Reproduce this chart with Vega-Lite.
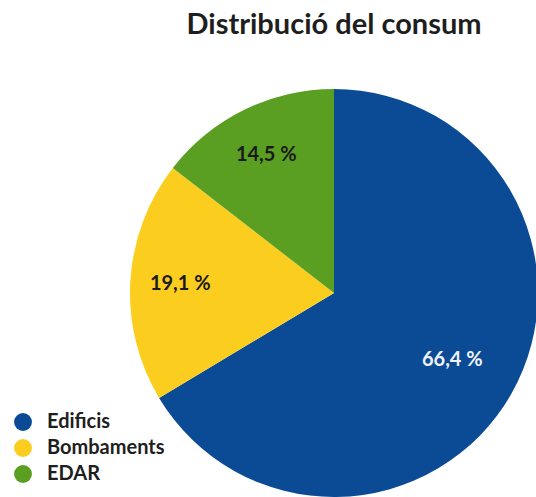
{
  "$schema": "https://vega.github.io/schema/vega-lite/v6.json",
  "autosize": {"type": "none"},
  "width": 404,
  "height": 408,
  "padding": {"left": 132, "top": 89, "right": 0, "bottom": 0},
  "background": "white",
  "config": {"view": {"stroke": null}, "font": "Lato"},
  "title": {
    "text": "Distribució del consum",
    "anchor": "middle",
    "frame": "group",
    "font": "Lato",
    "fontSize": 29,
    "fontWeight": "bold",
    "color": "#1e1e1e",
    "baseline": "alphabetic",
    "offset": 26
  },
  "data": {
    "values": [
      {"categoria": "Edificis", "valor": 66.4, "etiqueta": "66,4 %"},
      {"categoria": "Bombaments", "valor": 19.1, "etiqueta": "19,1 %"},
      {"categoria": "EDAR", "valor": 14.5, "etiqueta": "14,5 %"}
    ]
  },
  "encoding": {
    "theta": {"field": "valor", "type": "quantitative", "stack": true},
    "order": {"field": "valor", "sort": "descending"}
  },
  "layer": [
    {
      "mark": {"type": "arc", "outerRadius": 204, "stroke": null},
      "encoding": {
        "color": {
          "field": "categoria",
          "type": "nominal",
          "scale": {"domain": ["Edificis", "Bombaments", "EDAR"], "range": ["#0b4b95", "#fbcd1f", "#5a9f22"]},
          "legend": {
            "title": null,
            "orient": "none",
            "legendX": -119,
            "legendY": 323,
            "padding": 0,
            "symbolType": "circle",
            "symbolSize": 320,
            "symbolStrokeWidth": 0,
            "symbolOpacity": 1,
            "labelFont": "Lato",
            "labelFontSize": 20,
            "labelFontWeight": "bold",
            "labelColor": "#1e1e1e",
            "labelOffset": 14,
            "rowPadding": 6
          }
        }
      }
    },
    {
      "mark": {"type": "text", "radius": 136, "font": "Lato", "fontSize": 20, "fontWeight": "bold", "color": "#eef2f7"},
      "encoding": {
        "text": {"condition": {"test": "datum.categoria === 'Edificis'", "field": "etiqueta"}, "value": ""}
      }
    },
    {
      "mark": {"type": "text", "radius": 154, "font": "Lato", "fontSize": 20, "fontWeight": "bold", "color": "#1a1a1a"},
      "encoding": {
        "text": {"condition": {"test": "datum.categoria !== 'Edificis'", "field": "etiqueta"}, "value": ""}
      }
    }
  ]
}
